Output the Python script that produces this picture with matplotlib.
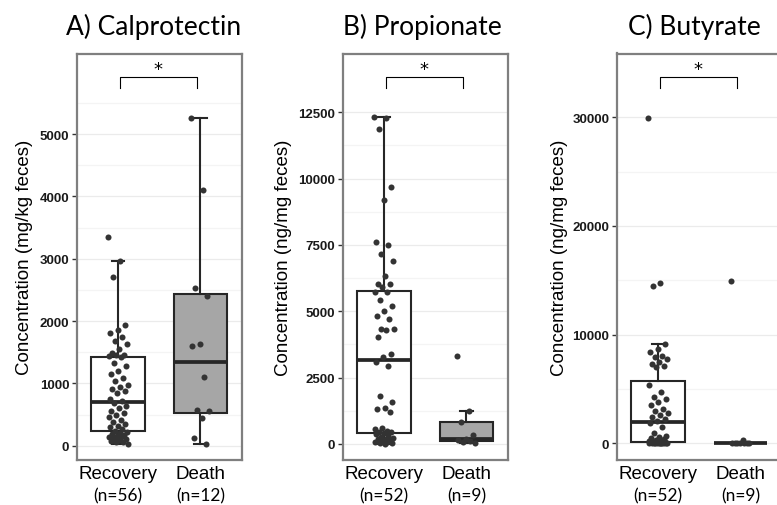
import numpy as np
import matplotlib.pyplot as plt
from matplotlib.transforms import blended_transform_factory

# Valores (pontos individuais por grupo)
grupos = ['Recovery', 'Death']

calpro_recovery = [3342, 2968, 2711, 1936, 1856, 1807, 1749, 1684, 1636, 1551, 1487, 1460, 1450, 1440,
                   1420, 1320, 1283, 1203, 1150, 1080, 1043, 980, 936, 909, 882, 850, 749, 720,
                   679, 640, 600, 561, 520, 492, 455, 417, 380, 350, 321, 294, 260, 241,
                   214, 200, 187, 170, 160, 140, 134, 120, 107, 90, 80, 60, 53, 27]
calpro_death = [5267, 4107, 2524, 2396, 1631, 1604, 1096, 572, 561, 439, 120, 30]

prop_recovery = [12309, 12280, 11869, 9671, 9194, 7624, 7498, 7159, 6883, 6318, 6029, 6016, 5900,
                 5740, 5715, 5438, 5212, 5024, 4836, 4700, 4333, 4320, 4308, 4044, 3400, 3265,
                 3102, 2952, 1821, 1570, 1344, 1319, 1193,
                 590, 560, 502, 470, 440, 410, 390, 310, 270, 230, 200, 170, 140, 110, 90, 70, 50, 30, 10]
prop_death = [3328, 1256, 840, 340, 190, 150, 100, 80, 50]

but_recovery = [29934, 14752, 14506, 9140, 8680, 8373, 8066, 7900, 7760, 7514, 7300, 7146, 6993,
                5367, 4754, 4233, 4080, 3800, 3527, 3159, 3006, 2791, 2600, 2392, 2200, 2086,
                1871, 1472, 920,
                700, 600, 500, 400, 300, 250, 200, 150, 120, 100, 80, 60, 50, 40, 30, 20, 15, 10, 5, 0, 0, 0, 0]
but_death = [14931, 300, 60, 30, 20, 15, 10, 5, 0]

n_calpro = ['(n=56)', '(n=12)']
n_prop = ['(n=52)', '(n=9)']
n_but = ['(n=52)', '(n=9)']

titulos = ['A) Calprotectin', 'B) Propionate', 'C) Butyrate']
rotulos_y = ['Concentration (mg/kg feces)', 'Concentration (ng/mg feces)', 'Concentration (ng/mg feces)']

ticks_a = [0, 1000, 2000, 3000, 4000, 5000]
ticks_menores_a = [500, 1500, 2500, 3500, 4500, 5500]
ticks_b = [0, 2500, 5000, 7500, 10000, 12500]
ticks_menores_b = [1250, 3750, 6250, 8750, 11250]
ticks_c = [0, 10000, 20000, 30000]
ticks_menores_c = [5000, 15000, 25000]

paineis = [
    dict(dados=[calpro_recovery, calpro_death], n=n_calpro, ticks=ticks_a, menores=ticks_menores_a,
         ylim=(-230, 6295), left=77, titulo_x=154, label_x=-0.267),
    dict(dados=[prop_recovery, prop_death], n=n_prop, ticks=ticks_b, menores=ticks_menores_b,
         ylim=(-603, 14714), left=343, titulo_x=422, label_x=-0.31),
    dict(dados=[but_recovery, but_death], n=n_but, ticks=ticks_c, menores=ticks_menores_c,
         ylim=(-1537, 35870), left=617, titulo_x=694, label_x=-0.298),
]

W, H = 777, 506
fig = plt.figure(figsize=(W / 100, H / 100), dpi=100)

cor_borda = '#262626'
cores_caixa = ['white', '#a6a6a6']

for k, p in enumerate(paineis):
    ax = fig.add_axes([p['left'] / W, (H - 461) / H, 164.5 / W, (461 - 54.5) / H])

    bp = ax.boxplot(p['dados'], positions=[1, 2], widths=0.65, patch_artist=True,
                    showfliers=False, whis=1.5, capwidths=0.15,
                    boxprops=dict(edgecolor=cor_borda, linewidth=1.5),
                    medianprops=dict(color=cor_borda, linewidth=2.7),
                    whiskerprops=dict(color=cor_borda, linewidth=1.5),
                    capprops=dict(color=cor_borda, linewidth=1.5))
    for caixa, cor in zip(bp['boxes'], cores_caixa):
        caixa.set_facecolor(cor)

    # pontos com jitter horizontal deterministico
    for g, valores in enumerate(p['dados']):
        i = np.arange(len(valores))
        desloc = ((i * 0.6180339887) % 1 - 0.5) * 0.24
        ax.scatter(g + 1 + desloc, valores, s=19, color='#333333', zorder=3, linewidths=0)

    ax.set_xlim(0.5, 2.5)
    ax.set_ylim(*p['ylim'])
    ax.set_yticks(p['ticks'])
    ax.set_yticks(p['menores'], minor=True)
    ax.set_yticklabels([str(t) for t in p['ticks']], fontsize=9.5, fontweight='bold',
                       family='Liberation Sans', color='#1a1a1a')
    ax.yaxis.grid(True, which='major', color='#ebebeb', linewidth=0.9)
    ax.yaxis.grid(True, which='minor', color='#f4f4f4', linewidth=0.9)
    ax.set_axisbelow(True)
    ax.tick_params(axis='y', which='major', length=3.5, width=1.0, color='#333333', pad=2)
    ax.tick_params(axis='y', which='minor', length=0)
    ax.tick_params(axis='x', length=0)
    ax.set_xticks([1, 2])
    ax.set_xticklabels(['', ''])
    for s in ax.spines.values():
        s.set_color('#7f7f7f')
        s.set_linewidth(1.6)

    ax.set_ylabel(rotulos_y[k], fontsize=13.5, family='Liberation Sans')
    ax.yaxis.set_label_coords(p['label_x'], 0.5)

    trans = blended_transform_factory(ax.transData, ax.transAxes)
    for g in range(2):
        ax.text(g + 1, -0.034, grupos[g], transform=trans, ha='center', va='center',
                fontsize=13.5, family='Liberation Sans', clip_on=False)
        ax.text(g + 1, -0.087, p['n'][g], transform=trans, ha='center', va='center',
                fontsize=12.5, family='Lato', clip_on=False)

    # colchete de significancia
    x1, x2 = 1.02, 1.96
    ax.plot([x1, x1, x2, x2], [0.9144, 0.9414, 0.9414, 0.9144], transform=trans,
            color='black', linewidth=0.8, clip_on=False)
    ax.text((x1 + x2) / 2, 0.962, '*', transform=trans, ha='center', va='center', fontsize=13)

    fig.text(p['titulo_x'] / W, (H - 35) / H, titulos[k], ha='center', va='baseline',
             fontsize=19, family='Lato')

fig.savefig('out.png', dpi=100)
